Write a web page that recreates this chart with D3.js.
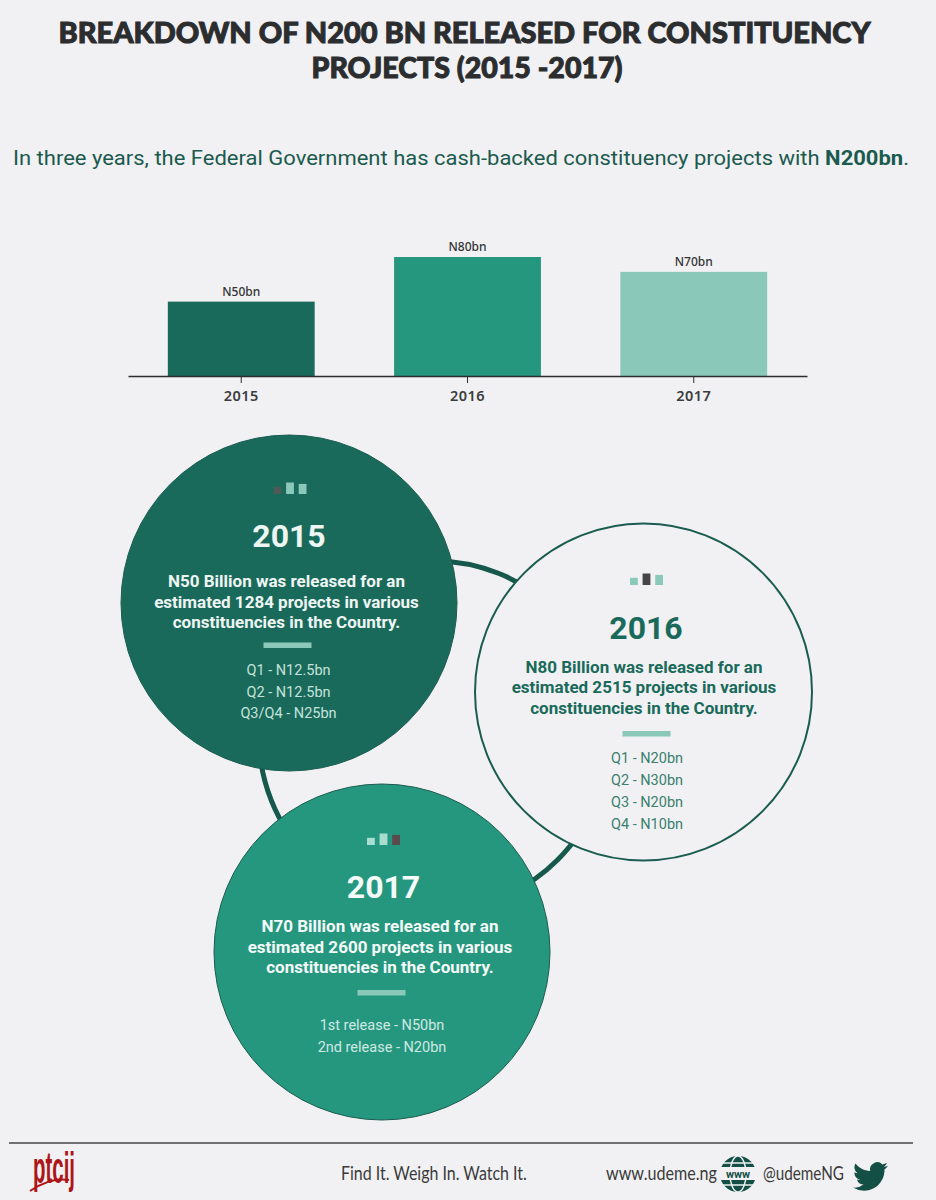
<!DOCTYPE html>
<html>
<head>
<meta charset="utf-8">
<title>Breakdown of N200 bn</title>
<script src="https://cdn.jsdelivr.net/npm/d3@7"></script>
<style>
  html, body { margin: 0; padding: 0; background: #f1f1f3; }
  svg { display: block; }
  text { font-family: Roboto, sans-serif; }
</style>
</head>
<body>
<div id="chart"></div>
<script>
// Chart values
const years = ["2015", "2016", "2017"];
const released = [50, 80, 70]; // N billion
const barLabels = ["N50bn", "N80bn", "N70bn"];
const barColors = ["#1a6a5b", "#26977f", "#8ac8ba"];

// Text in the circles
const summary2015 = ["N50 Billion was released for an", "estimated 1284 projects in various", "constituencies in the Country."];
const summary2016 = ["N80 Billion was released for an", "estimated 2515 projects in various", "constituencies in the Country."];
const summary2017 = ["N70 Billion was released for an", "estimated 2600 projects in various", "constituencies in the Country."];
const releases2015 = ["Q1 - N12.5bn", "Q2 - N12.5bn", "Q3/Q4 - N25bn"];
const releases2016 = ["Q1 - N20bn", "Q2 - N30bn", "Q3 - N20bn", "Q4 - N10bn"];
const releases2017 = ["1st release - N50bn", "2nd release - N20bn"];

const svg = d3.select("#chart").append("svg")
    .attr("width", 936)
    .attr("height", 1200)
    .attr("viewBox", "0 0 936 1200");

svg.append("rect").attr("width", 936).attr("height", 1200).attr("fill", "#f1f1f3");

// Title
const titleText = svg.append("g")
    .attr("text-anchor", "middle")
    .attr("fill", "#2b2d2f")
    .attr("stroke", "#2b2d2f")
    .attr("stroke-width", 1)
    .style("font-size", "28.5px")
    .style("font-weight", 900);
titleText.append("text").attr("x", 464.5).attr("y", 43)
    .attr("textLength", 812).attr("lengthAdjust", "spacingAndGlyphs")
    .style("font-family", "Lato")
    .text("BREAKDOWN OF N200 BN RELEASED FOR CONSTITUENCY");
titleText.append("text").attr("x", 467).attr("y", 78)
    .attr("textLength", 311).attr("lengthAdjust", "spacingAndGlyphs")
    .style("font-family", "Lato")
    .text("PROJECTS (2015 -2017)");

// Subtitle
const subtitle = svg.append("text")
    .attr("x", 13).attr("y", 165)
    .attr("textLength", 896).attr("lengthAdjust", "spacingAndGlyphs")
    .attr("fill", "#1b5a4e")
    .style("font-size", "21px");
subtitle.append("tspan").text("In three years, the Federal Government has cash-backed constituency projects with ");
subtitle.append("tspan").style("font-weight", 700).text("N200bn");
subtitle.append("tspan").text(".");

// Bar chart
const x = d3.scaleBand()
    .domain(years)
    .range([128, 807])
    .paddingInner(0.351)
    .paddingOuter(0.176);

const y = d3.scaleLinear()
    .domain([0, 80])
    .range([376, 257]);

svg.selectAll(".bar")
    .data(years)
    .enter().append("rect")
    .attr("class", "bar")
    .attr("x", d => x(d))
    .attr("y", (d, i) => y(released[i]))
    .attr("width", x.bandwidth())
    .attr("height", (d, i) => y(0) - y(released[i]))
    .attr("fill", (d, i) => barColors[i]);

svg.selectAll(".bar-label")
    .data(years)
    .enter().append("text")
    .attr("class", "bar-label")
    .attr("x", d => x(d) + x.bandwidth() / 2)
    .attr("y", (d, i) => y(released[i]) - 6)
    .attr("text-anchor", "middle")
    .attr("fill", "#333")
    .style("font-family", "Noto Sans")
    .style("font-size", "12px")
    .style("font-weight", 500)
    .text((d, i) => barLabels[i]);

const xAxis = svg.append("g")
    .attr("transform", `translate(0,${y(0)})`)
    .call(d3.axisBottom(x).tickSize(7).tickSizeOuter(0).tickPadding(8));
xAxis.select(".domain").attr("stroke", "#2b2d2f").attr("stroke-width", 1.5);
xAxis.selectAll(".tick line").attr("stroke", "#2b2d2f");
xAxis.selectAll(".tick text")
    .attr("fill", "#3a3c3e")
    .style("font-family", "Noto Sans")
    .style("font-size", "14.5px")
    .style("font-weight", 600)
    .style("letter-spacing", "0.4px");

// Ring that links the three circles
svg.append("circle")
    .attr("cx", 434).attr("cy", 736).attr("r", 175)
    .attr("fill", "none")
    .attr("stroke", "#16594c")
    .attr("stroke-width", 5);

const iconX = d3.scaleBand().domain(years).paddingInner(0.38);
const iconY = d3.scaleLinear().domain([0, 80]).range([0, 11.5]);

function drawCircle(o) {
    const g = svg.append("g");
    g.append("circle")
        .attr("cx", o.cx).attr("cy", o.cy).attr("r", o.r)
        .attr("fill", o.fill)
        .attr("stroke", "#1a5c50")
        .attr("stroke-width", o.stroke);

    // little bar icon, the current year picked out
    iconX.range([o.iconX - 16.5, o.iconX + 16.5]);
    g.selectAll(".icon")
        .data(years)
        .enter().append("rect")
        .attr("x", d => iconX(d))
        .attr("y", (d, i) => o.iconBase - iconY(released[i]))
        .attr("width", iconX.bandwidth())
        .attr("height", (d, i) => iconY(released[i]))
        .attr("fill", d => d === o.year ? o.iconPick : o.iconRest);

    g.append("text")
        .attr("x", o.yearX).attr("y", o.yearBase)
        .attr("text-anchor", "middle")
        .attr("fill", o.head)
        .style("font-size", "32px")
        .style("font-weight", 700)
        .text(o.year);

    g.selectAll(".summary")
        .data(o.summary)
        .enter().append("text")
        .attr("x", o.bodyX)
        .attr("y", (d, i) => o.bodyBase + i * 20.7)
        .attr("text-anchor", "middle")
        .attr("fill", o.head)
        .style("font-size", "17px")
        .style("font-weight", 700)
        .text(d => d);

    g.append("rect")
        .attr("x", o.ruleX - 24).attr("y", o.ruleY)
        .attr("width", 48).attr("height", 5.5)
        .attr("fill", "#8ac8ba");

    g.selectAll(".release")
        .data(o.releases)
        .enter().append("text")
        .attr("x", o.listX)
        .attr("y", (d, i) => o.listBase + i * o.listStep)
        .attr("text-anchor", "middle")
        .attr("fill", o.list)
        .style("font-size", "14.5px")
        .text(d => d);
}

drawCircle({
    year: "2015", summary: summary2015, releases: releases2015,
    cx: 289, cy: 603, r: 168, fill: "#1a6a5b", stroke: 1,
    head: "#eef6f3", list: "#c4e2da", iconPick: "#4d5a58", iconRest: "#8ac8ba",
    iconX: 290, iconBase: 494,
    yearX: 289, yearBase: 547,
    bodyX: 286.5, bodyBase: 587,
    ruleX: 287.5, ruleY: 642.5,
    listX: 288.5, listBase: 675, listStep: 21.7
});
drawCircle({
    year: "2016", summary: summary2016, releases: releases2016,
    cx: 643.5, cy: 692, r: 168.5, fill: "#f1f1f3", stroke: 2,
    head: "#1a6a5b", list: "#3a7f70", iconPick: "#454545", iconRest: "#8ac8ba",
    iconX: 646.5, iconBase: 585,
    yearX: 646, yearBase: 639,
    bodyX: 644, bodyBase: 672.5,
    ruleX: 646.5, ruleY: 731,
    listX: 647, listBase: 763, listStep: 22
});
drawCircle({
    year: "2017", summary: summary2017, releases: releases2017,
    cx: 382, cy: 952, r: 168, fill: "#26977f", stroke: 1,
    head: "#f4faf8", list: "#cfe9e2", iconPick: "#5a4a4c", iconRest: "#a9ddd0",
    iconX: 383.5, iconBase: 845,
    yearX: 383.5, yearBase: 898,
    bodyX: 380, bodyBase: 932,
    ruleX: 381.5, ruleY: 990,
    listX: 382, listBase: 1030, listStep: 21.5
});

// Footer
svg.append("line")
    .attr("x1", 9).attr("x2", 913).attr("y1", 1143).attr("y2", 1143)
    .attr("stroke", "#444").attr("stroke-width", 1.5);

// squeeze a text sideways so it fills the given width
function fitText(str, left, width, base, size, family, weight, color) {
    const t = svg.append("text")
        .attr("fill", color)
        .style("font-family", family)
        .style("font-size", size + "px")
        .style("font-weight", weight)
        .text(str);
    const natural = t.node().getComputedTextLength();
    t.attr("transform", `translate(${left},${base}) scale(${width / natural},1)`);
    return t;
}

fitText("ptcij", 33, 42, 1183, 44, "Liberation Sans", 700, "#ad1519");
svg.append("path")
    .attr("d", "M30 1191 Q50 1177 69 1180")
    .attr("fill", "none")
    .attr("stroke", "#ad1519")
    .attr("stroke-width", 2);

fitText("Find It. Weigh In. Watch It.", 341, 186, 1180, 20, "Lato", 400, "#3a3a3a");
fitText("www.udeme.ng", 606, 111, 1180, 20, "Lato", 400, "#3a3a3a");
fitText("@udemeNG", 763, 81, 1180, 20, "Lato", 400, "#3a3a3a");

// Globe
const globe = svg.append("g").attr("transform", "translate(738,1174)");
globe.append("circle").attr("r", 18).attr("fill", "#134f44");
globe.append("rect").attr("x", -19).attr("y", -7).attr("width", 38).attr("height", 13).attr("fill", "#f1f1f3");
globe.append("ellipse").attr("rx", 8).attr("ry", 18).attr("fill", "none").attr("stroke", "#f1f1f3").attr("stroke-width", 1.5);
globe.append("line").attr("x1", -15).attr("x2", 15).attr("y1", -11).attr("y2", -11).attr("stroke", "#f1f1f3").attr("stroke-width", 1.5);
globe.append("line").attr("x1", -15).attr("x2", 15).attr("y1", 11).attr("y2", 11).attr("stroke", "#f1f1f3").attr("stroke-width", 1.5);
globe.append("text").attr("y", 4).attr("text-anchor", "middle")
    .attr("fill", "#134f44")
    .style("font-size", "11px").style("font-weight", 700)
    .text("www");

// Bird
svg.append("path")
    .attr("transform", "translate(853,1159) scale(1.46)")
    .attr("fill", "#134f44")
    .attr("d", "M23.953 4.57a10 10 0 01-2.825.775 4.958 4.958 0 002.163-2.723c-.951.555-2.005.959-3.127 1.184a4.92 4.92 0 00-8.384 4.482C7.69 8.095 4.067 6.13 1.64 3.162a4.822 4.822 0 00-.666 2.475c0 1.71.87 3.213 2.188 4.096a4.904 4.904 0 01-2.228-.616v.06a4.923 4.923 0 003.946 4.827 4.996 4.996 0 01-2.212.085 4.936 4.936 0 004.604 3.417 9.867 9.867 0 01-6.102 2.105c-.39 0-.779-.023-1.17-.067a13.995 13.995 0 007.557 2.209c9.053 0 13.998-7.496 13.998-13.985 0-.21 0-.42-.015-.63A9.935 9.935 0 0024 4.59z");
</script>
</body>
</html>
